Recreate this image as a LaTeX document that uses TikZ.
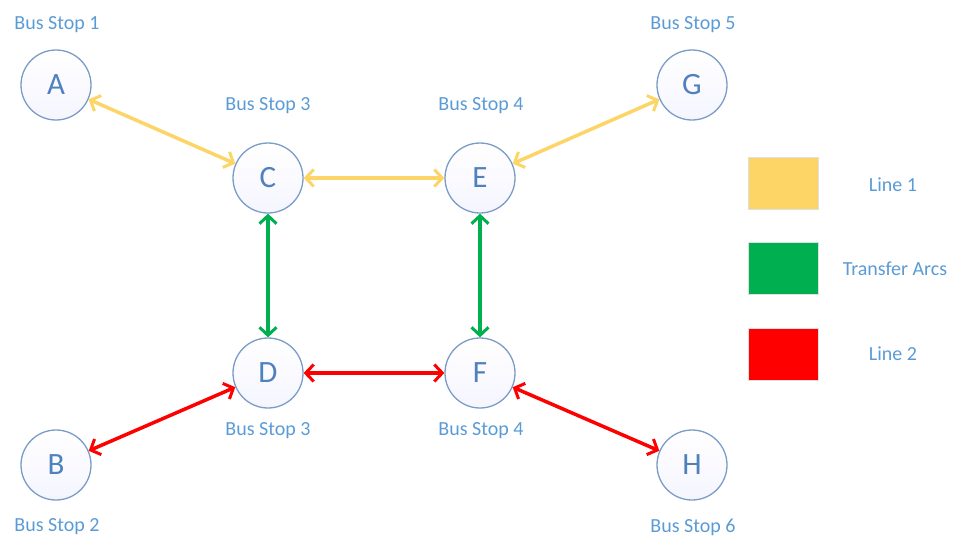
\documentclass[tikz,border=0pt]{standalone}
\usepackage{fontspec}
\setmainfont{Carlito}
\usetikzlibrary{arrows.meta}
\definecolor{txtblue}{HTML}{5B9BD5}
\definecolor{letblue}{HTML}{4F81BD}
\definecolor{ringblue}{HTML}{7A9CC6}
\definecolor{lyellow}{HTML}{FDD567}
\definecolor{lgreen}{HTML}{00B050}
\definecolor{lred}{HTML}{FF0000}
\tikzset{
  stop/.style={circle, draw=ringblue, line width=1.3pt, inner sep=0pt, minimum size=70pt,
    top color=white, bottom color=blue!4!white, text=letblue, font=\fontsize{31}{31}\selectfont},
  stoplbl/.style={text=txtblue, font=\fontsize{20}{20}\selectfont, inner sep=0pt},
  conn/.style={line width=3.5pt, {Straight Barb[length=8pt,width=17pt,line width=3pt]}-{Straight Barb[length=8pt,width=17pt,line width=3pt]}},
  legbox/.style={minimum width=70pt, minimum height=52pt, inner sep=0pt, draw=black!12, line width=0.8pt},
}
\begin{document}
\begin{tikzpicture}[x=1pt,y=-1pt]
\useasboundingbox (0,0) rectangle (955,536);
\node[stop] (A) at (56,85) {A};
\node[stop] (C) at (268,178) {C};
\node[stop] (E) at (480,178) {E};
\node[stop] (G) at (692,85) {G};
\node[stop] (D) at (268,373) {D};
\node[stop] (F) at (480,373) {F};
\node[stop] (B) at (56,465) {B};
\node[stop] (H) at (692,465) {H};
\node[stoplbl] (lA) at (57,25) {Bus Stop 1};
\node[stoplbl] (lC) at (268,106) {Bus Stop 3};
\node[stoplbl] (lE) at (481,106) {Bus Stop 4};
\node[stoplbl] (lG) at (693,25) {Bus Stop 5};
\node[stoplbl] (lD) at (268,431) {Bus Stop 3};
\node[stoplbl] (lF) at (481,431) {Bus Stop 4};
\node[stoplbl] (lB) at (57,527) {Bus Stop 2};
\node[stoplbl] (lH) at (693,527) {Bus Stop 6};
\draw[conn, lyellow] (A) -- (C);
\draw[conn, lyellow] (C) -- (E);
\draw[conn, lyellow] (E) -- (G);
\draw[conn, lgreen] (C) -- (D);
\draw[conn, lgreen] (E) -- (F);
\draw[conn, lred] (D) -- (F);
\draw[conn, lred] (B) -- (D);
\draw[conn, lred] (F) -- (H);
\node[legbox, fill=lyellow] (k1) at (783,183) {};
\node[legbox, fill=lgreen] (k2) at (783,268.5) {};
\node[legbox, fill=lred] (k3) at (783,354) {};
\node[stoplbl] (t1) at (893,185) {Line 1};
\node[stoplbl] (t2) at (895,269) {Transfer Arcs};
\node[stoplbl] (t3) at (893,354) {Line 2};
\end{tikzpicture}
\end{document}
